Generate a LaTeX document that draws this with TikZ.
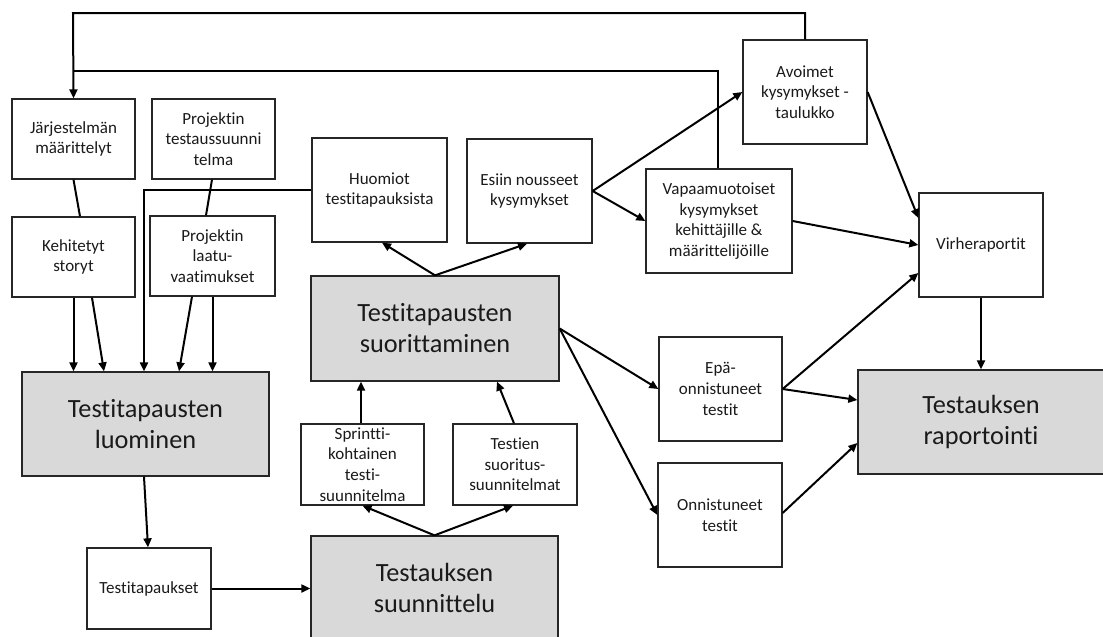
\documentclass[tikz,border=0pt]{standalone}
\usepackage{fontspec}
\setmainfont{Carlito}[Ligatures=NoCommon]
\usetikzlibrary{arrows.meta}
\definecolor{boxgray}{HTML}{D9D9D9}
\definecolor{ink}{HTML}{1A1A1A}
\tikzset{
  box/.style={draw=black!85, line width=1.3pt, fill=white, rectangle, inner sep=0pt,
    align=center, text=ink, font=\fontsize{17}{20.7}\selectfont},
  bigbox/.style={box, fill=boxgray, font=\fontsize{26.3}{31}\selectfont},
  conn/.style={draw=black, line width=2pt},
  arr/.style={conn, -{Triangle[length=9pt,width=8pt]}},
}
\begin{document}
\begin{tikzpicture}[x=1pt, y=-1pt]
\useasboundingbox[fill=white] (0,0) rectangle (1103,637);

% input documents
\node[box, minimum width=123pt, minimum height=80pt] (jm) at (73.5,139) {Järjestelmän\\määrittelyt};
\node[box, minimum width=123pt, minimum height=80pt] (pts) at (213.5,139) {Projektin\\testaussuunni\\telma};
\node[box, minimum width=123pt, minimum height=80pt] (ks) at (73.5,257) {Kehitetyt\\storyt};
\node[box, minimum width=125pt, minimum height=80pt] (plv) at (212.5,256) {Projektin\\laatu-\\vaatimukset};

% execution outputs
\node[box, minimum width=135pt, minimum height=104pt] (huo) at (379.5,190) {Huomiot\\testitapauksista};
\node[box, minimum width=125pt, minimum height=104pt] (esi) at (529.5,191) {Esiin nousseet\\kysymykset};
\node[box, minimum width=124pt, minimum height=104pt] (avo) at (805,92) {Avoimet\\kysymykset -\\taulukko};
\node[box, minimum width=146pt, minimum height=104pt] (vap) at (719,221) {Vapaamuotoiset\\kysymykset\\kehittäjille \&\\määrittelijöille};
\node[box, minimum width=124pt, minimum height=104pt] (vir) at (981,245) {Virheraportit};
\node[box, minimum width=123pt, minimum height=104pt] (epa) at (720.5,389) {Epä-\\onnistuneet\\testit};
\node[box, minimum width=124pt, minimum height=104pt] (onn) at (720,515) {Onnistuneet\\testit};

% planning outputs
\node[box, minimum width=123pt, minimum height=81pt] (spr) at (362.5,464.5) {Sprintti-\\kohtainen\\testi-\\suunnitelma};
\node[box, minimum width=124pt, minimum height=81pt] (tsu) at (515,464.5) {Testien\\suoritus-\\suunnitelmat};
\node[box, minimum width=124pt, minimum height=81pt] (tt) at (149,588.5) {Testitapaukset};

% process steps
\node[bigbox, minimum width=248pt, minimum height=105pt] (sor) at (435,328.5) {Testitapausten\\suorittaminen};
\node[bigbox, minimum width=247pt, minimum height=104pt] (lu) at (145.5,424) {Testitapausten\\luominen};
\node[bigbox, minimum width=246pt, minimum height=104pt] (rap) at (981,422) {Testauksen\\raportointi};
\node[bigbox, minimum width=247pt, minimum height=104pt] (sun) at (434.5,588) {Testauksen\\suunnittelu};

% feedback loops back to the system definitions
\coordinate (t1) at (73,13);
\coordinate (t2) at (73,71);
\draw[arr] (avo.north) |- (t1) -- (jm.north);
\draw[conn] ([xshift=-1pt]vap.north) |- (t2);

% inputs of test case creation
\draw[conn] (jm.south) -- ([xshift=6.5pt]ks.north);
\draw[conn] ([xshift=-1.5pt]pts.south) -- ([xshift=-6.5pt]plv.north);
\draw[arr] (ks.south) -- (ks.south |- lu.north);
\draw[arr] ([xshift=18.5pt]ks.south) -- ([xshift=-41.5pt]lu.north);
\draw[arr] (huo.west) -| ([xshift=-1.5pt]lu.north);
\draw[arr] ([xshift=-20.5pt]plv.south) -- ([xshift=33.5pt]lu.north);
\draw[arr] (plv.south) -- (plv.south |- lu.north);

% creation -> planning
\draw[arr] ([xshift=-1.5pt]lu.south) -- ([xshift=-1pt]tt.north);
\draw[arr] (tt.east) -- (tt.east -| sun.west);
\draw[arr] (sun.north) -- (spr.south);
\draw[arr] (sun.north) -- ([xshift=-2pt]tsu.south);

% planning -> execution
\draw[arr] ([xshift=-1.5pt]spr.north) -- ([xshift=-1.5pt]spr.north |- sor.south);
\draw[arr] ([xshift=-1pt]tsu.north) -- ([xshift=62pt]sor.south);

% execution outputs
\draw[arr] (sor.north) -- ([xshift=2.5pt]huo.south);
\draw[arr] (sor.north) -- ([xshift=-2.5pt]esi.south);
\draw[arr] (esi.east) -- (avo.west);
\draw[arr] (esi.east) -- (vap.west);
\draw[arr] (sor.east) -- (epa.west);
\draw[arr] (sor.east) -- (onn.west);

% reporting
\draw[arr] (avo.east) -- ([yshift=27pt]vir.west);
\draw[arr] (vap.east) -- (vir.west);
\draw[arr] (epa.east) -- ([yshift=-28pt]vir.west);
\draw[arr] (epa.east) -- ([yshift=22pt]rap.west);
\draw[arr] ([yshift=2pt]onn.east) -- ([yshift=-21pt]rap.west);
\draw[arr] (vir.south) -- (rap.north);
\end{tikzpicture}
\end{document}
